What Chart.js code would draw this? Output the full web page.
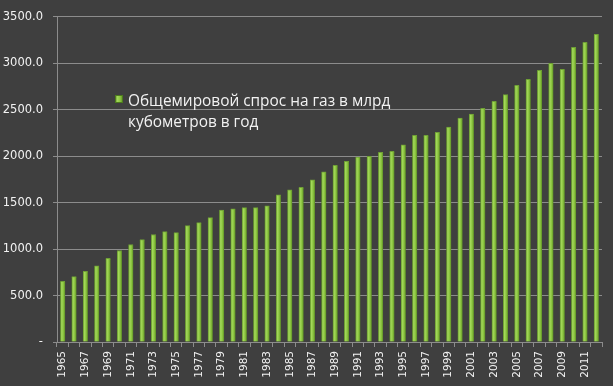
<!DOCTYPE html>
<html>
<head>
<meta charset="utf-8">
<script src="https://cdn.jsdelivr.net/npm/chart.js@4.4.1/dist/chart.umd.min.js"></script>
<style>
  body { margin: 0; background: #3f3f3f; }
  #c { display: block; }
</style>
</head>
<body>
<canvas id="c" width="613" height="386"></canvas>
<script>
// годы и спрос, млрд м3
var years = [1965,1966,1967,1968,1969,1970,1971,1972,1973,1974,1975,1976,1977,1978,1979,1980,
  1981,1982,1983,1984,1985,1986,1987,1988,1989,1990,1991,1992,1993,1994,1995,1996,1997,1998,
  1999,2000,2001,2002,2003,2004,2005,2006,2007,2008,2009,2010,2011,2012];
var demand = [653,703,760,821,900,985,1050,1103,1157,1189,1178,1253,1285,1339,1421,1435,
  1446,1446,1467,1585,1639,1664,1746,1831,1903,1946,1992,2000,2042,2053,2124,2224,2224,2256,
  2313,2410,2453,2517,2592,2663,2763,2827,2924,2999,2935,3173,3227,3313];
var yTicks = [0,500,1000,1500,2000,2500,3000,3500];
var seriesLabel = ['Общемировой спрос на газ в млрд', 'кубометров в год'];

var BG = '#3f3f3f';
var GRID = '#8c8c8c';
var TXT = '#f2f2f2';

function barGrad(chart, x, w) {
  var g = chart.ctx.createLinearGradient(x - w / 2, 0, x + w / 2, 0);
  g.addColorStop(0, '#5a8a24');
  g.addColorStop(0.3, '#a3d85a');
  g.addColorStop(0.65, '#8ac43e');
  g.addColorStop(1, '#5b8b25');
  return g;
}

var bgPlugin = {
  id: 'bg',
  beforeDraw: function (chart) {
    var ctx = chart.ctx;
    ctx.save();
    ctx.fillStyle = BG;
    ctx.fillRect(0, 0, chart.width, chart.height);
    ctx.restore();
  }
};

// легенда внутри области графика, в две строки
var legendPlugin = {
  id: 'boxLegend',
  afterDraw: function (chart) {
    var ctx = chart.ctx;
    ctx.save();
    var mx = 115, my = 95, ms = 8;
    ctx.fillStyle = barGrad(chart, mx + ms / 2, ms);
    ctx.fillRect(mx, my, ms, ms);
    ctx.strokeStyle = '#4d7a1e';
    ctx.lineWidth = 1;
    ctx.strokeRect(mx + 0.5, my + 0.5, ms - 1, ms - 1);
    ctx.fillStyle = TXT;
    ctx.font = '15.4px "Open Sans"';
    ctx.textBaseline = 'alphabetic';
    ctx.textAlign = 'left';
    seriesLabel.forEach(function (line, i) {
      ctx.fillText(line, 128, 106 + i * 21);
    });
    ctx.restore();
  }
};

new Chart(document.getElementById('c'), {
  type: 'bar',
  data: {
    labels: years,
    datasets: [{
      label: seriesLabel.join(' '),
      data: demand,
      barThickness: 5,
      borderWidth: { top: 1, left: 0, right: 0, bottom: 0 },
      borderColor: '#6f9f35',
      backgroundColor: function (context) {
        var chart = context.chart;
        if (!chart.chartArea) return '#8ac43e';
        var x = chart.scales.x.getPixelForValue(context.dataIndex);
        return barGrad(chart, x, 5);
      }
    }]
  },
  options: {
    responsive: false,
    animation: false,
    layout: { padding: { top: 15, right: 6, left: 0, bottom: 0 } },
    plugins: {
      legend: { display: false },
      tooltip: { enabled: false }
    },
    scales: {
      x: {
        afterFit: function (s) { s.height = 44; },
        grid: {
          offset: true,
          drawOnChartArea: false,
          drawTicks: true,
          tickLength: 5,
          color: GRID
        },
        border: { color: GRID },
        ticks: {
          autoSkip: false,
          minRotation: 90,
          maxRotation: 90,
          padding: 4,
          color: TXT,
          font: { family: 'DejaVu Sans', size: 10.5 },
          callback: function (v, i) { return i % 2 === 0 ? years[i] : ''; }
        }
      },
      y: {
        min: yTicks[0],
        max: yTicks[yTicks.length - 1],
        afterFit: function (s) { s.width = 57; },
        afterBuildTicks: function (s) {
          s.ticks = yTicks.map(function (v) { return { value: v }; });
        },
        grid: { color: GRID, tickLength: 4 },
        border: { color: GRID },
        ticks: {
          padding: 10,
          color: TXT,
          font: { family: 'DejaVu Sans', size: 11.5 },
          callback: function (v) { return v === 0 ? '-' : v.toFixed(1); }
        }
      }
    }
  },
  plugins: [bgPlugin, legendPlugin]
});
</script>
</body>
</html>
